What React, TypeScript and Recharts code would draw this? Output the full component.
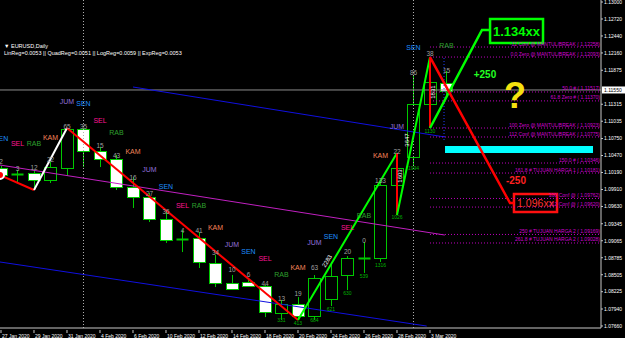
import React from 'react';
import {
  ComposedChart,
  Bar,
  Line,
  Scatter,
  XAxis,
  YAxis,
  ReferenceLine,
  ReferenceArea,
} from 'recharts';

const FONT = '"Liberation Sans", Arial, sans-serif';

// EURUSD daily bars
const dates = [
  '27 Jan 2020', '28 Jan 2020', '29 Jan 2020', '30 Jan 2020', '31 Jan 2020',
  '3 Feb 2020', '4 Feb 2020', '5 Feb 2020', '6 Feb 2020', '7 Feb 2020',
  '10 Feb 2020', '11 Feb 2020', '12 Feb 2020', '13 Feb 2020', '14 Feb 2020',
  '17 Feb 2020', '18 Feb 2020', '19 Feb 2020', '20 Feb 2020', '21 Feb 2020',
  '24 Feb 2020', '25 Feb 2020', '26 Feb 2020', '27 Feb 2020', '28 Feb 2020',
  '2 Mar 2020', '3 Mar 2020', '4 Mar 2020',
];
const opens = [
  1.10264, 1.10165, 1.10181, 1.10066, 1.10264, 1.10907, 1.10544, 1.10412, 1.09951, 1.09786,
  1.09423, 1.09094, 1.0911, 1.08698, 1.08368, 1.08385, 1.08319, 1.07873, 1.08022, 1.07824,
  1.08104, 1.08501, 1.0878, 1.0878, 1.09984, 1.10445, 1.11319, 1.11665,
];
const highs = [
  1.10297, 1.10231, 1.10231, 1.10363, 1.10923, 1.10923, 1.1061, 1.10478, 1.10115, 1.09852,
  1.09572, 1.09242, 1.09209, 1.0883, 1.08501, 1.08451, 1.08335, 1.08088, 1.08137, 1.085,
  1.08715, 1.08813, 1.09044, 1.10066, 1.10511, 1.11797, 1.12093, 1.11863,
];
const lows = [
  1.10115, 1.10033, 1.09901, 1.10017, 1.10132, 1.1028, 1.1028, 1.09901, 1.09605, 1.09374,
  1.09028, 1.08879, 1.08616, 1.08302, 1.08253, 1.08302, 1.07807, 1.07758, 1.07758, 1.07758,
  1.07989, 1.08253, 1.08534, 1.08715, 1.09489, 1.10313, 1.10923, 1.11467,
];
const closes = [
  1.10148, 1.1016, 1.10066, 1.1028, 1.10907, 1.10544, 1.10412, 1.09951, 1.09786, 1.09423,
  1.09077, 1.0909, 1.08715, 1.08368, 1.08269, 1.08319, 1.0789, 1.08022, 1.07824, 1.08451,
  1.08484, 1.0878, 1.08784, 1.09984, 1.10264, 1.11319, 1.11681, 1.11533,
];

const dateTickIdx = [0, 2, 4, 6, 8, 10, 12, 14, 16, 18, 20, 22, 24, 26];
// 1.11595 sits under the current price tag
const priceTicks = [
  1.13, 1.1272, 1.1244, 1.1216, 1.11875, 1.11315, 1.11035, 1.1075, 1.1047,
  1.1019, 1.0991, 1.0963, 1.09345, 1.09065, 1.08785, 1.08505, 1.08225, 1.0794, 1.0766,
];
const lastPrice = 1.1155;

// day name markers
const dayBars = [0, 1, 2, 3, 4, 5, 6, 7, 8, 9, 10, 11, 12, 13, 14, 15, 16, 17, 18, 19, 20, 21, 22, 23, 24, 25, 27];
const dayNames = [
  'SEN', 'SEL', 'RAB', 'KAM', 'JUM', 'SEN', 'SEL', 'RAB', 'KAM', 'JUM', 'SEN', 'SEL', 'RAB', 'KAM',
  'JUM', 'SEN', 'SEL', 'RAB', 'KAM', 'JUM', 'SEN', 'SEL', 'RAB', 'KAM', 'JUM', 'SEN', 'RAB',
];
const dayPrices = [
  1.10758, 1.1066, 1.10676, 1.10775, 1.11352, 1.11335, 1.11039, 1.10857, 1.10528, 1.10247,
  1.09967, 1.09638, 1.09638, 1.09291, 1.09011, 1.08896, 1.0878, 1.08517, 1.08616, 1.09044,
  1.09127, 1.09291, 1.09489, 1.10478, 1.1094, 1.12258, 1.12275,
];
const dayColors: Record<string, string> = {
  SEN: '#1e90ff',
  SEL: '#ff1493',
  RAB: '#2ea02e',
  KAM: '#f4845a',
  JUM: '#9370db',
};

// pip counts above / below bars
const pipTopBars = [0, 1, 2, 3, 4, 5, 6, 7, 8, 9, 10, 11, 12, 13, 14, 15, 16, 17, 18, 19, 21, 22, 23, 24, 25, 26, 27];
const pipTopText = ['2', '3', '12', '22', '65', '35', '15', '43', '16', '27', '36', '4', '41', '34', '10', '6', '44', '13', '19', '63', '20', '0', '133', '22', '86', '38', '15'];
const pipTopPrices = [
  1.10363, 1.10264, 1.1028, 1.10396, 1.10956, 1.10956, 1.10627, 1.10462, 1.10115, 1.09852,
  1.09555, 1.09242, 1.09242, 1.08879, 1.08599, 1.08501, 1.08368, 1.08121, 1.08203, 1.08616,
  1.08896, 1.09077, 1.10066, 1.10528, 1.11846, 1.12143, 1.11863,
];
const pipLowBars = [17, 18, 19, 20, 21, 22, 23, 24, 25, 26];
const pipLowText = ['331', '413', '684', '621', '630', '539', '1316', '1026', '1994', '1130'];
const pipLowPrices = [1.07758, 1.07709, 1.07758, 1.0794, 1.08203, 1.08484, 1.08665, 1.09456, 1.10264, 1.10874];

// rotated swing sizes along the zigzag
const swingX = [19.76, 24.18, 24.61, 26.18];
const swingText = ['2283', '1603', '3647', '1831'];
const swingPrices = [1.08731, 1.10132, 1.10726, 1.11516];
const swingAngles = [-59, -90, -90, -90];

// zigzag legs [bar, price]
const zzRedA = [[-0.06, 1.10148], [2, 1.09901]];
const zzWhite = [[2, 1.09901], [4, 1.10923]];
const zzRedB = [[4, 1.10923], [18, 1.07758]];
const zzGreenA = [[18, 1.07758], [24, 1.10511]];
const zzRedC = [[24, 1.10511], [24, 1.09489]];
const zzGreenB = [[24, 1.09489], [26, 1.12093]];
const zzRedD = [[26, 1.12093], [26, 1.10923]];
const projUp = [[26, 1.10923], [29.15, 1.12539], [29.64, 1.12539]];
const projDown = [[26, 1.12093], [30.85, 1.09687], [31.09, 1.09687]];

// regression channel
const chanUpper = [[8, 1.11599], [26.9, 1.10775]];
const chanMid = [[-0.06, 1.10313], [26.9, 1.09159]];
const chanLower = [[-0.06, 1.08715], [25.8, 1.07659]];

// fibo levels
const fibNames = [
  '-12 Conf @ MANTUL/BREAK', '0.0 Zero @ MANTUL/BREAK', '50.0 #', '61.8 Zero #',
  '100 Zero @ MANTUL/BREAK', '112 Conf @ MANTUL/BREAK', '150.0 #', '161.8 # TUJUAN HARGA 1',
  '200 Conf @', '212 Conf @', '250 # TUJUAN HARGA 2', '261.8 # TUJUAN HARGA 2',
];
const fibPrices = [1.12258, 1.12093, 1.11517, 1.1137, 1.10923, 1.10775, 1.10346, 1.10181, 1.09762, 1.0962, 1.09169, 1.09028];
const fibStart = 26;
const fibEnd = 36.3;

const separators = [5, 25];

const X0 = -0.0606;
const X1 = 36.364;
const Y0 = 1.07627;
const Y1 = 1.13033;

const candles = dates.map((d, i) => ({
  x: i,
  date: d,
  open: opens[i],
  high: highs[i],
  low: lows[i],
  close: closes[i],
  range: [lows[i], highs[i]],
}));

const pts = (arr: number[][]) => arr.map(([x, y]) => ({ x, y }));

const dayData = dayBars.map((b, i) => ({ x: b, y: dayPrices[i], text: dayNames[i] }));
const pipTopData = pipTopBars.map((b, i) => ({ x: b, y: pipTopPrices[i], text: pipTopText[i] }));
const pipLowData = pipLowBars.map((b, i) => ({ x: b, y: pipLowPrices[i], text: pipLowText[i] }));
const swingData = swingX.map((b, i) => ({ x: b, y: swingPrices[i], text: swingText[i], angle: swingAngles[i] }));
const fibData = fibNames.map((n, i) => ({ x: fibEnd, y: fibPrices[i], text: `${n} ( ${fibPrices[i].toFixed(5)})` }));

const WICK = '#00c800';

const Candle = (props: any) => {
  const { x, y, width, height, payload } = props;
  if (!payload || height == null) return null;
  const { open, close, high, low } = payload;
  const k = height / (high - low);
  const cx = Math.round(x + width / 2) + 0.5;
  const yO = y + (high - open) * k;
  const yC = y + (high - close) * k;
  const top = Math.round(Math.min(yO, yC)) + 0.5;
  const bot = Math.round(Math.max(yO, yC)) + 0.5;
  const up = close >= open;
  return (
    <g>
      <line x1={cx} x2={cx} y1={y} y2={y + height} stroke={WICK} />
      {bot - top < 1.5 ? (
        <line x1={cx - 6} x2={cx + 6} y1={top} y2={top} stroke={WICK} strokeWidth={2} />
      ) : (
        <rect
          x={cx - 6}
          y={top}
          width={12}
          height={bot - top}
          fill={up ? '#000' : '#fff'}
          stroke={WICK}
        />
      )}
    </g>
  );
};

const DayLabel = (p: any) => (
  <text x={p.cx} y={p.cy} textAnchor="middle" dominantBaseline="central" fontSize={7} fontFamily={FONT} fill={dayColors[p.payload.text]}>
    {p.payload.text}
  </text>
);

const PipTop = (p: any) => (
  <text x={p.cx} y={p.cy} textAnchor="middle" dominantBaseline="central" fontSize={6.5} fontFamily={FONT} fill="#a0a0a0">
    {p.payload.text}
  </text>
);

const PipLow = (p: any) => (
  <text x={p.cx} y={p.cy} textAnchor="middle" dominantBaseline="central" fontSize={5} fontFamily={FONT} fill="#00b000">
    {p.payload.text}
  </text>
);

const SwingLabel = (p: any) => (
  <text
    x={p.cx}
    y={p.cy}
    textAnchor="middle"
    dominantBaseline="central"
    fontSize={6}
    fontFamily={FONT}
    fill="#ffffff"
    transform={`rotate(${p.payload.angle}, ${p.cx}, ${p.cy})`}
  >
    {p.payload.text}
  </text>
);

const FibLabel = (p: any) => (
  <text x={p.cx} y={p.cy - 1.5} textAnchor="end" fontSize={5} fontFamily={FONT} fill="#d000d0">
    {p.payload.text}
  </text>
);

const DateTick = (props: any) => {
  const { x, y, payload } = props;
  return (
    <g>
      <line x1={x} x2={x} y1={y - 3} y2={y} stroke="#c8c8c8" />
      <text x={x + 1} y={y + 5} fontSize={5} fontFamily={FONT} fill="#ffffff">
        {dates[payload.value]}
      </text>
    </g>
  );
};

const PriceTag = (props: any) => {
  const { viewBox } = props;
  const x = viewBox.x + viewBox.width;
  return (
    <g>
      <rect x={x + 1} y={viewBox.y - 3.5} width={23} height={7} fill="#ffffff" />
      <text x={x + 3} y={viewBox.y} dominantBaseline="central" fontSize={5} fontFamily={FONT} fill="#000">
        {lastPrice.toFixed(5)}
      </text>
    </g>
  );
};

const textShape = (text: string, color: string, size: number, weight: string | number = 'bold') => (p: any) => (
  <text x={p.cx} y={p.cy} textAnchor="middle" dominantBaseline="central" fontSize={size} fontWeight={weight} fontFamily={FONT} fill={color}>
    {text}
  </text>
);

export default function App() {
  return (
    <div style={{ position: 'absolute', left: 0, top: 0, width: 625, height: 338, background: '#000' }}>
      <ComposedChart width={625} height={338} data={candles} margin={{ top: 0, right: 0, bottom: 0, left: 0 }}>
        <XAxis
          dataKey="x"
          type="number"
          domain={[X0, X1]}
          allowDataOverflow
          ticks={dateTickIdx}
          interval={0}
          height={10}
          tickSize={3}
          tickLine={false}
          tick={<DateTick />}
          axisLine={{ stroke: '#c8c8c8' }}
        />
        <YAxis
          dataKey="y"
          orientation="right"
          type="number"
          domain={[Y0, Y1]}
          allowDataOverflow
          ticks={priceTicks}
          interval={0}
          width={24}
          tickSize={2}
          tickMargin={1}
          tickFormatter={(v: number) => v.toFixed(5)}
          tick={{ fill: '#ffffff', fontSize: 5, fontFamily: FONT }}
          axisLine={{ stroke: '#c8c8c8' }}
          tickLine={{ stroke: '#c8c8c8' }}
        />

        {separators.map((s) => (
          <ReferenceLine key={s} x={s} stroke="#b0b0b0" strokeDasharray="1 2" />
        ))}
        <ReferenceLine y={lastPrice} stroke="#8c8c8c" label={<PriceTag />} />

        <ReferenceLine segment={pts(chanUpper) as any} stroke="#1010e0" />
        <ReferenceLine segment={pts(chanMid) as any} stroke="#c020c0" />
        <ReferenceLine segment={pts(chanLower) as any} stroke="#1010e0" />
        <ReferenceLine
          segment={[{ x: 26.85, y: 1.12077 }, { x: 26.85, y: 1.10726 }] as any}
          stroke="#2040ff"
          strokeDasharray="1 2"
        />

        {fibPrices.map((p, i) => (
          <ReferenceLine
            key={i}
            segment={[{ x: fibStart, y: p }, { x: fibEnd, y: p }] as any}
            stroke="#c000c0"
            strokeDasharray="1 2"
          />
        ))}

        <ReferenceArea x1={26.91} x2={35.88} y1={1.10511} y2={1.10627} fill="#00ffff" fillOpacity={1} stroke="none" />

        <Bar dataKey="range" barSize={12} shape={<Candle />} isAnimationActive={false} />

        <Line data={pts(zzRedA)} dataKey="y" stroke="#ff0000" strokeWidth={2} dot={false} isAnimationActive={false} />
        <Line data={pts(zzWhite)} dataKey="y" stroke="#ffffff" strokeWidth={2} dot={false} isAnimationActive={false} />
        <Line data={pts(zzRedB)} dataKey="y" stroke="#ff0000" strokeWidth={2} dot={false} isAnimationActive={false} />
        <Line data={pts(zzGreenA)} dataKey="y" stroke="#00ff00" strokeWidth={2} dot={false} isAnimationActive={false} />
        <Line data={pts(zzRedC)} dataKey="y" stroke="#ff0000" strokeWidth={2} dot={false} isAnimationActive={false} />
        <Line data={pts(zzGreenB)} dataKey="y" stroke="#00ff00" strokeWidth={2} dot={false} isAnimationActive={false} />
        <Line data={pts(zzRedD)} dataKey="y" stroke="#ff0000" strokeWidth={2} dot={false} isAnimationActive={false} />
        <Line data={pts(projUp)} dataKey="y" stroke="#00ff00" strokeWidth={2.5} dot={false} isAnimationActive={false} />
        <Line data={pts(projDown)} dataKey="y" stroke="#ff0000" strokeWidth={2.5} dot={false} isAnimationActive={false} />

        <ReferenceArea
          x1={29.64}
          x2={32.85}
          y1={1.12324}
          y2={1.1272}
          fill="#000"
          fillOpacity={1}
          stroke="#00ff00"
          strokeWidth={2.5}
          label={{ value: '1.134xx', position: 'center', fill: '#00ff00', fontSize: 13, fontWeight: 'bold', fontFamily: FONT }}
        />
        <ReferenceArea
          x1={31.09}
          x2={33.7}
          y1={1.09539}
          y2={1.09835}
          fill="#000"
          fillOpacity={1}
          stroke="#ff1010"
          strokeWidth={2.5}
          label={{ value: '1.096xx', position: 'center', fill: '#ff3030', fontSize: 10.5, fontFamily: FONT }}
        />

        <Scatter data={fibData} shape={FibLabel} isAnimationActive={false} />
        <Scatter data={dayData} shape={DayLabel} isAnimationActive={false} />
        <Scatter data={pipTopData} shape={PipTop} isAnimationActive={false} />
        <Scatter data={pipLowData} shape={PipLow} isAnimationActive={false} />
        <Scatter data={swingData} shape={SwingLabel} isAnimationActive={false} />
        <Scatter data={[{ x: 29.33, y: 1.11813 }]} shape={textShape('+250', '#22ff22', 10)} isAnimationActive={false} />
        <Scatter data={[{ x: 31.21, y: 1.10066 }]} shape={textShape('-250', '#ff2020', 10)} isAnimationActive={false} />
        <Scatter data={[{ x: 31.15, y: 1.11451 }]} shape={textShape('?', '#f5e20f', 36)} isAnimationActive={false} />
      </ComposedChart>
      <div style={{ position: 'absolute', left: 4, top: 43, color: '#fff', fontFamily: FONT, fontSize: 5.5, lineHeight: '7px', whiteSpace: 'nowrap' }}>
        <div>▼ EURUSD,Daily</div>
        <div>LinReg=0.0053 || QuadReg=0.0051 || LogReg=0.0059 || ExpReg=0.0053</div>
      </div>
    </div>
  );
}
